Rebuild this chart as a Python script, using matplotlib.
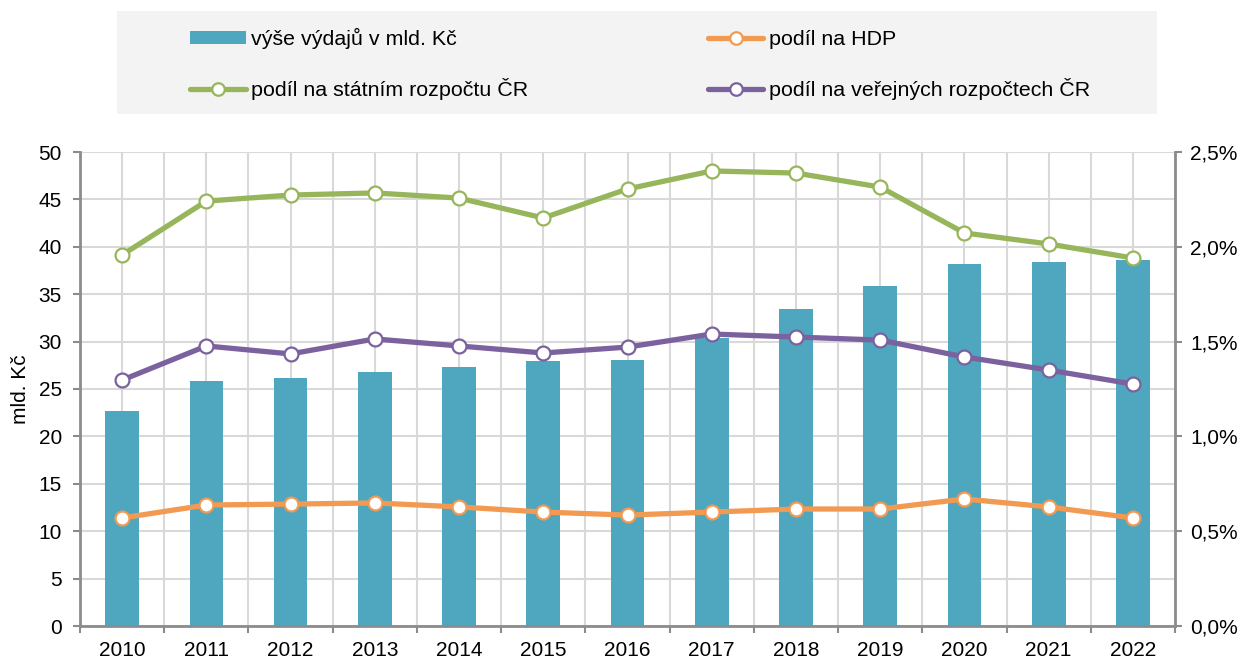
import matplotlib
matplotlib.use("Agg")
import matplotlib.pyplot as plt
from matplotlib.ticker import FuncFormatter, FixedLocator
from matplotlib.patches import Rectangle
import numpy as np

plt.rcParams['font.family'] = ['Liberation Sans', 'DejaVu Sans']

years = ['2010', '2011', '2012', '2013', '2014', '2015', '2016', '2017', '2018', '2019', '2020', '2021', '2022']
spend_bn = [22.7, 25.8, 26.2, 26.8, 27.3, 27.95, 28.05, 30.4, 33.4, 35.9, 38.2, 38.4, 38.6]
share_gdp = [0.570, 0.638, 0.643, 0.649, 0.628, 0.601, 0.585, 0.601, 0.617, 0.617, 0.670, 0.628, 0.570]
share_state = [1.957, 2.241, 2.273, 2.284, 2.257, 2.152, 2.305, 2.400, 2.389, 2.315, 2.073, 2.015, 1.941]
share_public = [1.297, 1.477, 1.435, 1.514, 1.477, 1.440, 1.471, 1.540, 1.524, 1.508, 1.419, 1.350, 1.276]

labels = ['výše výdajů v mld. Kč', 'podíl na HDP', 'podíl na státním rozpočtu ČR', 'podíl na veřejných rozpočtech ČR']
c_bar = '#4ea6bf'
c_org = '#f29a52'
c_grn = '#97b65b'
c_pur = '#7b619d'
spine_c = '#8c8c8c'
grid_c = '#d9d9d9'
FS = 15

fig = plt.figure(figsize=(12.45, 6.6), dpi=100)
ax = fig.add_axes([80/1245, 1-626/660, 1095/1245, 474/660])
x = np.arange(len(years))

bars = ax.bar(x, spend_bn, width=0.4, color=c_bar, zorder=2, label=labels[0])
ax.set_xlim(-0.5, len(years)-0.5)
ax.set_ylim(0, 50)
ax.set_yticks(np.arange(0, 51, 5))
ax.set_xticks(x)
ax.set_xticklabels(years)
ax.xaxis.set_minor_locator(FixedLocator(np.arange(-0.5, len(years), 1.0)))
ax.tick_params(axis='x', which='major', length=0, labelsize=FS, pad=11)
ax.tick_params(axis='x', which='minor', length=5, color=spine_c, width=1.5)
ax.tick_params(axis='y', length=5, color=spine_c, width=1.5, labelsize=FS, pad=8)
ax.grid(True, which='both', axis='x', color=grid_c, lw=1.5, zorder=0)
ax.grid(True, which='major', axis='y', color=grid_c, lw=1.5, zorder=0)
ax.set_axisbelow(True)
ax.set_ylabel('mld. Kč', fontsize=FS, labelpad=6)
for s in ['top', 'right']:
    ax.spines[s].set_visible(False)
for s in ['left', 'bottom']:
    ax.spines[s].set_color(spine_c)
    ax.spines[s].set_linewidth(2)

ax2 = ax.twinx()
ax2.set_ylim(0, 2.5)
ax2.set_yticks(np.arange(0, 2.51, 0.5))
ax2.yaxis.set_major_formatter(FuncFormatter(lambda v, p: f"{v:.1f}%".replace('.', ',')))
ax2.tick_params(axis='y', length=5, color=spine_c, width=1.5, labelsize=FS, pad=6)
for s in ['top', 'left', 'bottom']:
    ax2.spines[s].set_visible(False)
ax2.spines['right'].set_color(spine_c)
ax2.spines['right'].set_linewidth(2)

mk = dict(marker='o', markersize=10, markerfacecolor='white', markeredgewidth=1.6, lw=3.8, solid_capstyle='round')
l1, = ax2.plot(x, share_gdp, color=c_org, markeredgecolor=c_org, label=labels[1], **mk)
l2, = ax2.plot(x, share_state, color=c_grn, markeredgecolor=c_grn, label=labels[2], **mk)
l3, = ax2.plot(x, share_public, color=c_pur, markeredgecolor=c_pur, label=labels[3], **mk)

fig.patches.append(Rectangle((117/1245, 1-114/660), 1040/1245, 103/660, transform=fig.transFigure,
                             facecolor='#f2f3f2', edgecolor='none', zorder=0))

leg = fig.legend([bars, l2, l1, l3], [labels[0], labels[2], labels[1], labels[3]], ncol=2,
                 loc='upper left', bbox_to_anchor=(190/1245, 1-28/660),
                 fontsize=15.4, frameon=False,
                 handlelength=2.6, handleheight=0.5, handletextpad=0.25, borderpad=0, labelspacing=1.35,
                 borderaxespad=0, columnspacing=8.4)
for h in leg.legend_handles[1:]:
    h.set_markersize(9)

fig.savefig('out.png', dpi=100)
